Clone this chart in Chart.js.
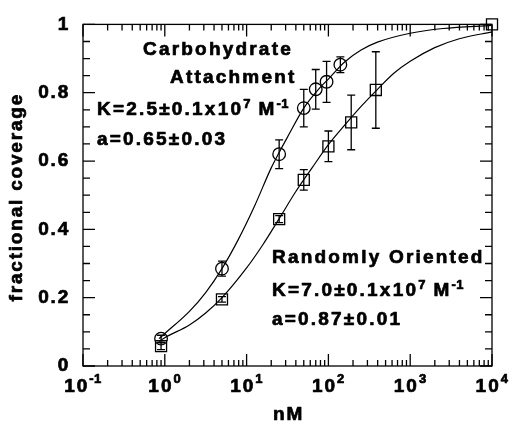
<!DOCTYPE html>
<html><head><meta charset="utf-8">
<script src="https://cdn.jsdelivr.net/npm/chart.js@4"></script>
<style>html,body{margin:0;padding:0;background:#fff;}</style>
</head><body>
<canvas id="c" width="509" height="423" style="width:509px;height:423px;display:block"></canvas>
<script>
const FONT = "'Liberation Sans', Arial, Helvetica, sans-serif";

// ---- data ----
const carbX   = [0.9, 5, 25, 50, 70, 95, 140];
const carbY   = [0.08, 0.285, 0.62, 0.755, 0.81, 0.832, 0.882];
const carbErr = [0.01, 0.022, 0.042, 0.055, 0.058, 0.06, 0.023];

const randX   = [0.9, 5, 25, 50, 100, 190, 380, 10000];
const randY   = [0.058, 0.195, 0.43, 0.545, 0.643, 0.713, 0.808, 1.0];
const randErr = [0.01, 0.008, 0.01, 0.03, 0.045, 0.08, 0.112, 0];

const fitCarbX = [0.85, 1, 2, 3.16, 5, 7.9, 12.6, 20, 25, 31.6, 50, 79, 100, 158, 251, 398, 1000, 2512, 10000];
const fitCarbY = [0.08, 0.095, 0.16, 0.215, 0.285, 0.37, 0.47, 0.58, 0.625, 0.67, 0.755, 0.815, 0.84, 0.89, 0.925, 0.948, 0.974, 0.988, 0.997];

const fitRandX = [0.85, 1, 2, 3.16, 5, 10, 15.8, 25.1, 39.8, 63.1, 100, 158, 251, 398, 631, 1000, 1995, 3981, 10000];
const fitRandY = [0.072, 0.083, 0.12, 0.155, 0.2, 0.287, 0.355, 0.432, 0.51, 0.58, 0.648, 0.705, 0.76, 0.81, 0.857, 0.892, 0.932, 0.958, 0.978];

const xTickExps   = [-1, 0, 1, 2, 3, 4];
const yTickLabels = ['0', '0.2', '0.4', '0.6', '0.8', '1'];
const xTitle = 'nM';
const yTitle = 'fractional coverage';

// annotation text (segments: [text, isSuperscript])
const notes = [
  {x: 143, y: 55,  parts: [['Carbohydrate', 0]]},
  {x: 170, y: 83,  parts: [['Attachment', 0]]},
  {x: 97,  y: 115, parts: [['K=2.5\u00b10.1x10', 0], ['7', 1], [' M', 0], ['-1', 1]]},
  {x: 97,  y: 145, parts: [['a=0.65\u00b10.03', 0]]},
  {x: 272, y: 263, parts: [['Randomly Oriented', 0]]},
  {x: 272, y: 296, parts: [['K=7.0\u00b10.1x10', 0], ['7', 1], [' M', 0], ['-1', 1]]},
  {x: 272, y: 325, parts: [['a=0.87\u00b10.01', 0]]}
];

const pts = (xs, ys) => xs.map((x, i) => ({x: x, y: ys[i]}));

function boldText(ctx, t, x, y) {
  ctx.fillText(t, x, y);
  ctx.strokeText(t, x, y);
}

const errorBars = {
  id: 'errorBars',
  afterDatasetsDraw(chart) {
    const ctx = chart.ctx, xs = chart.scales.x, ys = chart.scales.y;
    const sets = [[carbX, carbY, carbErr], [randX, randY, randErr]];
    ctx.save();
    ctx.strokeStyle = '#000';
    ctx.lineWidth = 1.3;
    sets.forEach(([X, Y, E]) => {
      X.forEach((x, i) => {
        if (!E[i]) return;
        const px = xs.getPixelForValue(x);
        const y1 = ys.getPixelForValue(Y[i] + E[i]);
        const y2 = ys.getPixelForValue(Y[i] - E[i]);
        ctx.beginPath();
        ctx.moveTo(px, y1); ctx.lineTo(px, y2);
        ctx.moveTo(px - 4, y1); ctx.lineTo(px + 4, y1);
        ctx.moveTo(px - 4, y2); ctx.lineTo(px + 4, y2);
        ctx.stroke();
      });
    });
    ctx.restore();
  }
};

const frame = {
  id: 'frame',
  beforeDraw(chart) {
    const ctx = chart.ctx;
    ctx.save();
    ctx.fillStyle = '#fff';
    ctx.fillRect(0, 0, chart.width, chart.height);
    ctx.restore();
    ctx.letterSpacing = '1.8px';
  },
  afterDraw(chart) {
    const ctx = chart.ctx, xs = chart.scales.x, ys = chart.scales.y;
    const {left, right, top, bottom} = chart.chartArea;
    ctx.save();
    ctx.strokeStyle = '#000';
    ctx.lineWidth = 1.3;
    ctx.beginPath();
    // x ticks (inward, bottom and top)
    for (let e = -1; e <= 4; e++) {
      for (let m = 1; m <= 9; m++) {
        const v = m * Math.pow(10, e);
        if (v > 10000 + 1e-6) break;
        const px = xs.getPixelForValue(v);
        const len = m === 1 ? 12 : 6;
        ctx.moveTo(px, bottom); ctx.lineTo(px, bottom - len);
        ctx.moveTo(px, top); ctx.lineTo(px, top + len);
      }
    }
    // y ticks (inward, left and right)
    for (let i = 0; i <= 20; i++) {
      const py = ys.getPixelForValue(i * 0.05);
      const len = i % 4 === 0 ? 12 : 7;
      ctx.moveTo(left, py); ctx.lineTo(left + len, py);
      ctx.moveTo(right, py); ctx.lineTo(right - len, py);
    }
    ctx.stroke();
    ctx.strokeRect(left, top, right - left, bottom - top);

    ctx.fillStyle = '#000';
    ctx.lineWidth = 0.7;
    ctx.lineJoin = 'round';
    ctx.textBaseline = 'alphabetic';
    ctx.textAlign = 'left';

    // x tick labels 10^n
    xTickExps.forEach(e => {
      const px = xs.getPixelForValue(Math.pow(10, e));
      ctx.font = 'bold 19px ' + FONT; ctx.letterSpacing = '2px';
      const wb = ctx.measureText('10').width;
      ctx.font = 'bold 13px ' + FONT; ctx.letterSpacing = '0.5px';
      const es = String(e);
      const we = ctx.measureText(es).width;
      const x0 = px - (wb + we) / 2;
      ctx.font = 'bold 19px ' + FONT; ctx.letterSpacing = '2px';
      boldText(ctx, '10', x0, 392);
      ctx.font = 'bold 13px ' + FONT; ctx.letterSpacing = '0.5px';
      boldText(ctx, es, x0 + wb, 383);
    });

    // axis titles
    ctx.font = 'bold 19px ' + FONT; ctx.letterSpacing = '1.8px';
    ctx.textAlign = 'center'; ctx.textBaseline = 'middle';
    boldText(ctx, xTitle, (left + right) / 2 + 1, 415);
    ctx.save();
    ctx.translate(17, (top + bottom) / 2 + 2);
    ctx.rotate(-Math.PI / 2);
    boldText(ctx, yTitle, 0, 0);
    ctx.restore();

    // annotations
    ctx.textAlign = 'left'; ctx.textBaseline = 'alphabetic';
    notes.forEach(n => {
      let cx = n.x;
      n.parts.forEach(([t, sup]) => {
        ctx.font = (sup ? 'bold 13px ' : 'bold 19px ') + FONT;
        ctx.letterSpacing = sup ? '0.5px' : '2.2px';
        boldText(ctx, t, cx, sup ? n.y - 7 : n.y);
        cx += ctx.measureText(t).width;
      });
    });
    ctx.restore();
  }
};

new Chart(document.getElementById('c').getContext('2d'), {
  type: 'scatter',
  data: {
    datasets: [
      {data: pts(fitCarbX, fitCarbY), showLine: true, pointRadius: 0, borderColor: '#000', borderWidth: 1.2,
       cubicInterpolationMode: 'monotone', fill: false},
      {data: pts(fitRandX, fitRandY), showLine: true, pointRadius: 0, borderColor: '#000', borderWidth: 1.2,
       cubicInterpolationMode: 'monotone', fill: false},
      {data: pts(carbX, carbY), pointStyle: 'circle', pointRadius: 6.3, borderColor: '#000', borderWidth: 1.3,
       backgroundColor: 'rgba(0,0,0,0)', clip: false},
      {data: pts(randX, randY), pointStyle: 'rect', pointRadius: 7.8, borderColor: '#000', borderWidth: 1.3,
       backgroundColor: 'rgba(0,0,0,0)', clip: false}
    ]
  },
  options: {
    responsive: false,
    animation: false,
    devicePixelRatio: 1,
    events: [],
    layout: {padding: {top: 21, right: 17, left: 0, bottom: 0}},
    plugins: {legend: {display: false}, tooltip: {enabled: false}},
    scales: {
      x: {
        type: 'logarithmic', min: 0.1, max: 10000,
        grid: {display: false, drawTicks: false}, border: {display: false},
        ticks: {display: false},
        title: {display: false, text: xTitle},
        afterFit(s) { s.height = 57; }
      },
      y: {
        min: 0, max: 1,
        grid: {display: false, drawTicks: false}, border: {display: false},
        ticks: {stepSize: 0.2, color: '#000', padding: 13,
                font: {family: FONT, size: 19, weight: 'bold'},
                textStrokeColor: '#000', textStrokeWidth: 0.7,
                callback: (v, i) => yTickLabels[i]},
        title: {display: false, text: yTitle},
        afterFit(s) { s.width = 83; }
      }
    }
  },
  plugins: [frame, errorBars]
});
</script>
</body></html>
